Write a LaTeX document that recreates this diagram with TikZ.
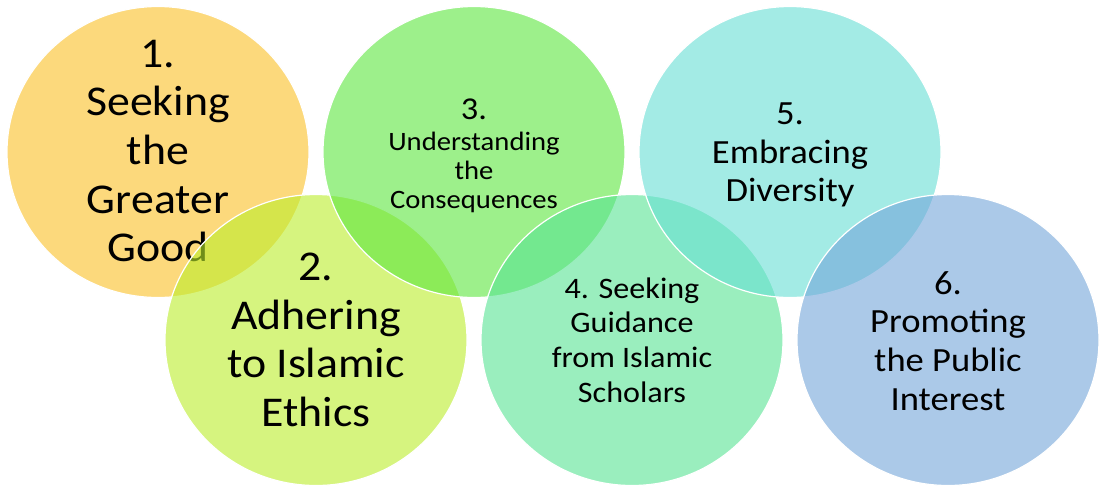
\documentclass[tikz,border=0pt]{standalone}
\usepackage{fontspec}
\setmainfont[FakeStretch=1.08]{Carlito}
\usetikzlibrary{shapes.geometric}
\definecolor{cA}{RGB}{250,192,38}
\definecolor{cB}{RGB}{188,238,43}
\definecolor{cC}{RGB}{92,230,63}
\definecolor{cD}{RGB}{88,227,147}
\definecolor{cE}{RGB}{103,223,213}
\definecolor{cF}{RGB}{115,165,218}
\tikzset{
  bubble/.style={ellipse, minimum width=226.5pt, minimum height=218.25pt, inner sep=0pt, outer sep=0pt,
    draw=white, line width=0.9pt, fill opacity=0.6, draw opacity=1},
  bigtxt/.style={align=center, text=black, font=\fontsize{31.8}{36.5}\selectfont, inner sep=0pt},
  midtxt/.style={align=center, text=black, font=\fontsize{25.4}{29}\selectfont, inner sep=0pt},
}
\begin{document}
\begin{tikzpicture}[x=0.75pt, y=-0.75pt]
\fill[white] (0,0) rectangle (1101,487);
\useasboundingbox (0,0) rectangle (1101,487);
\node[bubble, fill=cA] (b1) at (158,152) {};
\node[bigtxt] (t1) at (158,151) {1.\\Seeking\\the\\Greater\\Good};
\node[bubble, fill=cB] (b2) at (316,340) {};
\node[bigtxt] (t2) at (316,340) {2.\\Adhering\\to Islamic\\Ethics};
\node[bubble, fill=cC] (b3) at (474,152) {};
\node[align=center, text=black, inner sep=0pt, font=\fontsize{19.9}{21.75}\selectfont] (t3) at (474,156)
  {{\fontsize{23.85}{23.25}\selectfont 3.}\\[1.5pt]Understanding\\the\\Consequences};
\node[bubble, fill=cD] (b4) at (632,340) {};
\node[align=center, text=black, inner sep=0pt, font=\fontsize{22.3}{26}\selectfont] (t4) at (632,340)
  {4. Seeking\\Guidance\\from Islamic\\Scholars};
\node[bubble, fill=cE] (b5) at (790,152) {};
\node[midtxt] (t5) at (790,155) {5.\\Embracing\\Diversity};
\node[bubble, fill=cF] (b6) at (948,340) {};
\node[midtxt] (t6) at (948,341) {6.\\Promoting\\the Public\\Interest};
\end{tikzpicture}
\end{document}
